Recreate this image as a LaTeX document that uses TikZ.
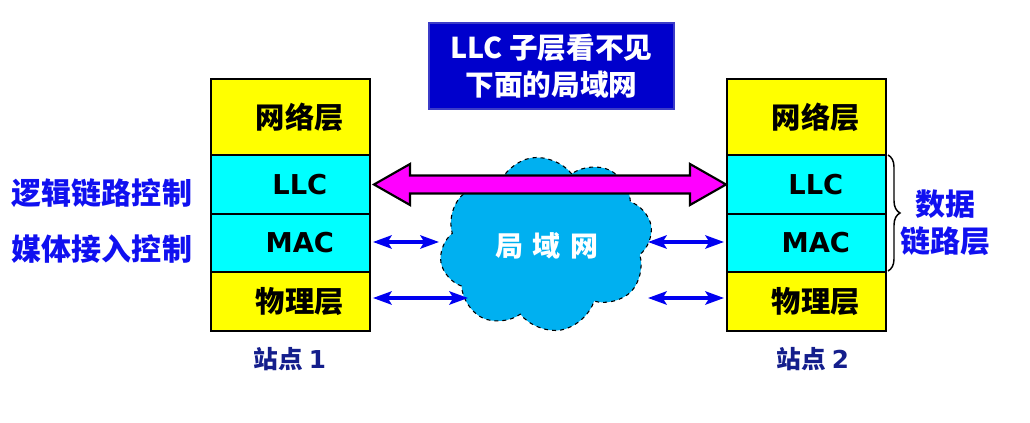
\documentclass[tikz,border=0pt]{standalone}
\usepackage{fontspec}
\setmainfont{DejaVu Sans}
\newfontfamily\cjk{Noto Sans CJK SC}
\usetikzlibrary{shapes.symbols,arrows.meta,calc,decorations.pathreplacing}
\definecolor{lyellow}{RGB}{255,255,0}
\definecolor{lcyan}{RGB}{0,255,255}
\definecolor{titlebg}{RGB}{0,0,204}
\definecolor{titlebd}{RGB}{60,60,200}
\definecolor{cloudc}{RGB}{0,176,240}
\definecolor{lblue}{RGB}{16,16,240}
\definecolor{navy}{RGB}{20,30,140}
\definecolor{arrblue}{RGB}{0,0,240}
\definecolor{pinkc}{RGB}{255,0,255}
\begin{document}
\begin{tikzpicture}[x=0.75pt,y=-0.75pt,
  layer/.style={draw=black,line width=1.5pt,minimum width=119.25pt,inner sep=0pt,
    font=\bfseries\fontsize{20.5}{24}\selectfont,
    execute at begin node=\hspace*{14pt}},
  cjklayer/.style={layer,font=\cjk\bfseries\fontsize{22}{26}\selectfont},
  bluelbl/.style={text=lblue,font=\cjk\bfseries\fontsize{22.5}{26}\selectfont,inner sep=0pt},
  stationlbl/.style={text=navy,font=\cjk\bfseries\fontsize{18.5}{22}\selectfont,inner sep=0pt},
  bluearrow/.style={draw=arrblue,line width=2.4pt,
    {Stealth[length=14pt,width=10pt,inset=3pt]}-{Stealth[length=14pt,width=10pt,inset=3pt]}},
  pinkarrow/.style={draw=black,fill=pinkc,line width=1.6pt,line join=miter}
]
\useasboundingbox (0,0) rectangle (1030,423);
% station 1
\node[cjklayer,fill=lyellow,minimum height=57pt] (s1net) at (290.5,117) {网络层};
\node[layer,fill=lcyan,minimum height=44.25pt] (s1llc) at (290.5,184.5) {LLC};
\node[layer,fill=lcyan,minimum height=43.5pt] (s1mac) at (290.5,243) {MAC};
\node[cjklayer,fill=lyellow,minimum height=44.25pt] (s1phy) at (290.5,301.5) {物理层};
% station 2
\node[cjklayer,fill=lyellow,minimum height=57pt] (s2net) at (806.5,117) {网络层};
\node[layer,fill=lcyan,minimum height=44.25pt] (s2llc) at (806.5,184.5) {LLC};
\node[layer,fill=lcyan,minimum height=43.5pt] (s2mac) at (806.5,243) {MAC};
\node[cjklayer,fill=lyellow,minimum height=44.25pt] (s2phy) at (806.5,301.5) {物理层};
% station labels
\node[stationlbl] (st1) at (290,359) {站点 {\rmfamily\bfseries 1}};
\node[stationlbl] (st2) at (813,359) {站点 {\rmfamily\bfseries 2}};
% left labels
\node[bluelbl] (llclbl) at (102,193) {逻辑链路控制};
\node[bluelbl] (maclbl) at (102,249) {媒体接入控制};
% title
\node[fill=titlebg,draw=titlebd,line width=1pt,minimum width=183.75pt,minimum height=64.5pt,
  text=white,align=center,inner sep=0pt,font=\cjk\bfseries\fontsize{21.5}{28}\selectfont]
  (title) at (551.5,66) {LLC 子层看不见\\下面的局域网};
% cloud
\node[cloud,cloud puffs=8,cloud puff arc=125,aspect=1.2,fill=cloudc,draw=black,dashed,
  line width=0.8pt,minimum width=160pt,minimum height=131pt,inner sep=0pt,rotate=10] (lan) at (546,244) {};
\node[text=white,font=\cjk\bfseries\fontsize{21}{24}\selectfont,inner sep=0pt] (lantxt) at (547,246) {局\,\,域\,\,网};
% cloud edge points
\coordinate (c1) at (439,242);
\coordinate (c2) at (468,298);
\coordinate (c3) at (648,242);
\coordinate (c4) at (648,298);
% blue arrows
\draw[bluearrow] ($(s1mac.east)+(2,-1)$) -- (c1);
\draw[bluearrow] ($(s1phy.east)+(2,-3.5)$) -- (c2);
\draw[bluearrow] (c3) -- ($(s2mac.west)+(-2,-1)$);
\draw[bluearrow] (c4) -- ($(s2phy.west)+(-2,-3.5)$);
% pink double arrow
\draw[pinkarrow] ($(s1llc.east)+(3,0)$) -- ++(36,-20.5) -- ++(0,11.5)
  -- ($(s2llc.west)+(-36,-9)$) -- ++(0,-11.5) -- (s2llc.west) -- ++(-36,20.5) -- ++(0,-11.5)
  -- ($(s1llc.east)+(39,9)$) -- ++(0,11.5) -- cycle;
% brace
\draw[line width=1.1pt,decorate,decoration={brace,amplitude=9pt}]
  ($(s2llc.north east)+(1,1)$) -- ($(s2mac.south east)+(1,-2)$);
\node[bluelbl,align=center,font=\cjk\bfseries\fontsize{22.5}{28}\selectfont] (dll) at (945,223) {数据\\链路层};
\end{tikzpicture}
\end{document}
